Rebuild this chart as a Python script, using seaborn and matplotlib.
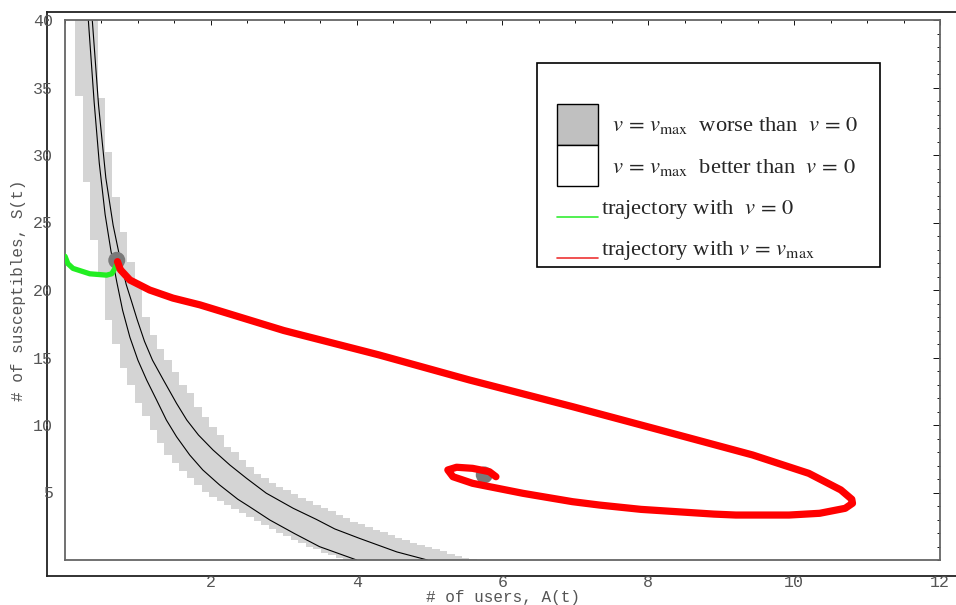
import numpy as np
import matplotlib
matplotlib.use("Agg")
import matplotlib.pyplot as plt
from matplotlib.patches import Patch, Rectangle
from matplotlib.lines import Line2D
from matplotlib.font_manager import FontProperties
from matplotlib.ticker import MultipleLocator, FixedLocator
from matplotlib.legend_handler import HandlerLine2D
import seaborn as sns

# ---------------- data ----------------
# shaded region "v = vmax worse than v = 0": grid columns in A, S range per column
band_col_width = 0.102
band_first_edge = 0.14
band_hi = [40, 40, 40, 34.2, 30.2, 26.9, 24.3, 22.1, 20.4, 18.0, 16.7, 15.6, 14.8,
           13.95, 12.96, 12.35, 11.36, 10.6, 9.88, 9.26, 8.4, 8.0, 7.4, 6.9, 6.4,
           6.05, 5.68, 5.43, 5.2, 4.9, 4.6, 4.35, 4.1, 3.85, 3.6, 3.35, 3.1, 2.85,
           2.65, 2.45, 2.25, 2.05, 1.85, 1.65, 1.45, 1.25, 1.1, 0.95, 0.8, 0.65,
           0.45, 0.3, 0.15, 0.05]
band_lo = [34.4, 28.0, 23.7, 21.0, 17.8, 16.0, 14.2, 13.0, 11.65, 10.7, 9.6, 8.7,
           7.8, 7.2, 6.6, 6.1, 5.56, 5.06, 4.69, 4.4, 4.1, 3.8, 3.5, 3.15, 2.9, 2.6,
           2.3, 2.0, 1.75, 1.5, 1.25, 1.0, 0.8, 0.55, 0.35, 0.15] + [0.0] * 18

# two black boundary curves
curve1_A = [0.32, 0.40, 0.47, 0.55, 0.63, 0.71, 0.79, 0.89, 1.0, 1.12, 1.256, 1.39,
            1.53, 1.71, 1.89, 2.12, 2.37, 2.53, 2.81, 3.15, 3.49, 4.0]
curve1_S = [40, 33.9, 29.4, 25.6, 22.9, 20.6, 18.5, 16.5, 14.8, 13.33, 11.85, 10.37,
            9.13, 7.78, 6.67, 5.56, 4.5, 3.95, 2.96, 1.95, 0.99, 0]
curve2_A = [0.374, 0.46, 0.56, 0.66, 0.76, 0.84, 0.91, 0.99, 1.09, 1.2, 1.35, 1.53,
            1.67, 1.83, 2.03, 2.26, 2.49, 2.76, 3.13, 3.45, 3.70, 4.04, 4.55, 4.97]
curve2_S = [40, 33.7, 28.3, 24.8, 22.2, 20.4, 19.2, 17.8, 16.2, 14.8, 13.33, 11.6,
            10.37, 9.26, 8.15, 7.04, 6.05, 4.95, 3.83, 3.0, 2.3, 1.6, 0.6, 0]

# trajectory with v = 0
green_A = [0.0, 0.04, 0.11, 0.34, 0.57, 0.64, 0.685, 0.716]
green_S = [22.5, 21.95, 21.6, 21.2, 21.1, 21.2, 21.6, 22.0]

# trajectory with v = vmax
red_A = [0.72, 0.76, 0.89, 1.16, 1.48, 1.85, 3.0, 4.3, 5.55, 6.96, 8.33, 9.43, 10.2,
         10.64, 10.79, 10.8, 10.7, 10.35, 9.93, 9.2, 8.9, 7.9, 7.33, 6.96, 6.28, 5.59,
         5.32, 5.25, 5.37, 5.59, 5.82, 5.91]
red_S = [22.1, 21.5, 20.74, 20.0, 19.4, 18.9, 17.0, 15.2, 13.33, 11.36, 9.38, 7.78,
         6.42, 5.19, 4.5, 4.2, 3.83, 3.46, 3.33, 3.33, 3.4, 3.75, 4.07, 4.32, 4.94,
         5.68, 6.17, 6.67, 6.87, 6.79, 6.54, 6.17]

# equilibrium / start points
dots_A = [0.71, 5.75]
dots_S = [22.2, 6.3]

x_ticks = [2, 4, 6, 8, 10, 12]
y_ticks = [5, 10, 15, 20, 25, 30, 35, 40]

legend_labels = [r"  $v\,=\,v_{\mathrm{max}}$  worse than  $v\,=\,0$",
                 r"  $v\,=\,v_{\mathrm{max}}$  better than  $v\,=\,0$",
                 r"trajectory with  $v\,=\,0$",
                 r"trajectory with $v\,=\,v_{\mathrm{max}}$"]


class LowLineHandler(HandlerLine2D):
    """Legend line drawn near the text baseline instead of the row centre."""

    def create_artists(self, legend, orig_handle, xdescent, ydescent, width,
                       height, fontsize, trans):
        artists = super().create_artists(legend, orig_handle, xdescent, ydescent,
                                         width, height, fontsize, trans)
        for a in artists:
            a.set_ydata(np.asarray(a.get_ydata(), dtype=float) - 0.42 * height)
        return artists


# ---------------- style ----------------
sns.set_style("white")
plt.rcParams["font.family"] = ["Liberation Mono", "DejaVu Sans"]
plt.rcParams["mathtext.fontset"] = "stix"

W, H = 956, 605
fig = plt.figure(figsize=(W / 100, H / 100), dpi=100)

# outer frame (labels sit on it)
outer = fig.add_axes([47 / W, 29 / H, 1.0, 564 / H])
outer.set_xticks([])
outer.set_yticks([])
outer.set_facecolor("white")
for side in ["left", "top", "bottom"]:
    outer.spines[side].set_color("#222222")
    outer.spines[side].set_linewidth(1.3)
outer.spines["right"].set_visible(False)

ax = fig.add_axes([65 / W, 45 / H, 875 / W, 540 / H])
ax.set_facecolor("white")

# shaded region
edges = band_first_edge + band_col_width * np.arange(len(band_hi) + 1)
ax.fill_between(edges, band_lo + [band_lo[-1]], band_hi + [band_hi[-1]],
                step="post", color="#d4d4d4", linewidth=0, zorder=1)

sns.lineplot(x=curve1_A, y=curve1_S, sort=False, estimator=None, color="black",
             linewidth=0.8, ax=ax, zorder=2)
sns.lineplot(x=curve2_A, y=curve2_S, sort=False, estimator=None, color="black",
             linewidth=0.8, ax=ax, zorder=2)

sns.scatterplot(x=dots_A, y=dots_S, s=150, color="#7a7a7a", edgecolor="none",
                ax=ax, zorder=3)

sns.lineplot(x=green_A, y=green_S, sort=False, estimator=None, color="#22ee22",
             linewidth=3.8, ax=ax, zorder=4, solid_capstyle="round")
sns.lineplot(x=red_A, y=red_S, sort=False, estimator=None, color="#ff0000",
             linewidth=5.2, ax=ax, zorder=4, solid_capstyle="round",
             solid_joinstyle="round")

ax.set_xlim(0, 12)
ax.set_ylim(0, 40)
ax.xaxis.set_major_locator(FixedLocator(x_ticks))
ax.yaxis.set_major_locator(FixedLocator(y_ticks))
ax.xaxis.set_minor_locator(MultipleLocator(0.5))
ax.yaxis.set_minor_locator(MultipleLocator(1))
ax.tick_params(which="both", direction="in", top=True, right=True,
               labeltop=False, labelright=False, color="#111111", width=0.7)
ax.tick_params(axis="x", which="major", length=3.8, pad=11)
ax.tick_params(axis="x", which="minor", length=2.2)
ax.tick_params(axis="y", which="major", length=5, pad=8.5)
ax.tick_params(axis="y", which="minor", length=2.4)
for lab in ax.get_xticklabels() + ax.get_yticklabels():
    lab.set_fontsize(12)
    lab.set_color("#555555")
for s in ax.spines.values():
    s.set_color("#666666")
    s.set_linewidth(1.3)

ax.set_xlabel("# of users, A(t)", fontsize=11.5, color="#555555")
ax.set_ylabel("# of susceptibles, S(t)", fontsize=11.5, color="#555555")
ax.xaxis.set_label_coords(0.5, -0.055)
ax.yaxis.set_label_coords(-0.045, 0.5)

# legend
ax.add_patch(Rectangle((0.5394, 0.5426), 0.392, 0.378, transform=ax.transAxes,
                       facecolor="white", edgecolor="black", linewidth=1.2,
                       zorder=5))
handles = [Patch(facecolor="#c0c0c0", edgecolor="black", linewidth=1.0),
           Patch(facecolor="white", edgecolor="black", linewidth=1.0),
           Line2D([0], [0], color="#33ee33", linewidth=1.2),
           Line2D([0], [0], color="#ee3333", linewidth=1.2)]
leg = ax.legend(handles, legend_labels, loc="upper left",
                bbox_to_anchor=(0.5623, 0.8444), frameon=False, borderpad=0,
                borderaxespad=0, handlelength=1.82, handleheight=2.43,
                labelspacing=0, handletextpad=0.12,
                handler_map={Line2D: LowLineHandler()},
                prop=FontProperties(family="Liberation Serif", size=16.2))
leg.set_zorder(6)

fig.savefig("out.png", dpi=100, facecolor="white")
